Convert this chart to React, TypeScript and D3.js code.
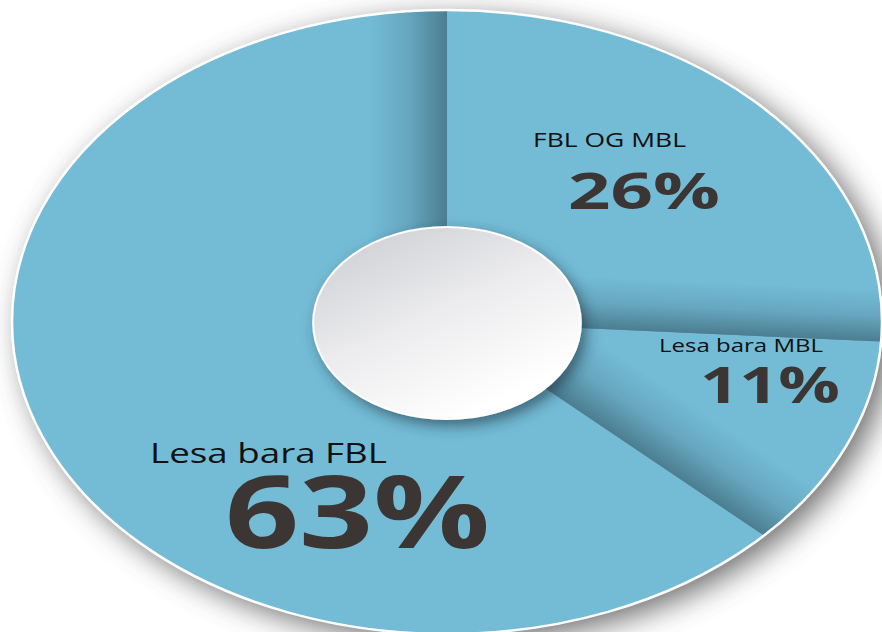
import React, { useRef, useEffect } from "react";
import * as d3 from "d3";

// slices, clockwise from 12 o'clock
const categories = ["FBL OG MBL", "Lesa bara MBL", "Lesa bara FBL"];
const shares = [26, 11, 63];
const shareLabels = ["26%", "11%", "63%"];

const W = 882;
const H = 632;
const cx = 447;
const cy = 322;
const rOuter = 312;
const rInner = 96;
const squash = 435 / 312; // the pie is stretched into an ellipse

// hand placed annotation boxes (x, baseline, font size, text width)
const labelLayout = [
  { name: { x: 533, y: 147, size: 20, len: 153 }, value: { x: 568, y: 209, size: 50, len: 152 }, shade: 52 },
  { name: { x: 659, y: 352, size: 19, len: 164 }, value: { x: 700, y: 403, size: 50, len: 140 }, shade: 60 },
  { name: { x: 150, y: 463, size: 28, len: 237 }, value: { x: 225, y: 548, size: 100, len: 265 }, shade: 56 },
];

const App = () => {
  const svgRef = useRef<SVGSVGElement | null>(null);

  useEffect(() => {
    const svg = d3.select(svgRef.current);
    svg.selectAll("*").remove();
    const defs = svg.append("defs");

    const outerBlur = defs
      .append("filter")
      .attr("id", "outerBlur")
      .attr("x", "-20%")
      .attr("y", "-20%")
      .attr("width", "140%")
      .attr("height", "140%");
    outerBlur.append("feGaussianBlur").attr("stdDeviation", 15);

    const holeShadow = defs
      .append("filter")
      .attr("id", "holeShadow")
      .attr("x", "-30%")
      .attr("y", "-30%")
      .attr("width", "160%")
      .attr("height", "160%");
    holeShadow
      .append("feDropShadow")
      .attr("dx", 5)
      .attr("dy", 6)
      .attr("stdDeviation", 7)
      .attr("flood-color", "#1d3540")
      .attr("flood-opacity", 0.6);

    const holeFill = defs
      .append("linearGradient")
      .attr("id", "holeFill")
      .attr("x1", 0.15)
      .attr("y1", 0.05)
      .attr("x2", 0.7)
      .attr("y2", 0.9);
    holeFill.append("stop").attr("offset", 0).attr("stop-color", "#cfd1d5");
    holeFill.append("stop").attr("offset", 0.5).attr("stop-color", "#ececee");
    holeFill.append("stop").attr("offset", 1).attr("stop-color", "#ffffff");

    svg.append("rect").attr("width", W).attr("height", H).attr("fill", "#ffffff");

    svg
      .append("ellipse")
      .attr("cx", cx + 10)
      .attr("cy", cy + 8)
      .attr("rx", rOuter * squash)
      .attr("ry", rOuter)
      .attr("fill", "#555555")
      .attr("opacity", 0.85)
      .attr("filter", "url(#outerBlur)");

    const pie = d3.pie<number>().sort(null).value((d) => d);
    const arcs = pie(shares);
    const arc = d3.arc<any>().innerRadius(rInner).outerRadius(rOuter);

    const g = svg
      .append("g")
      .attr("transform", `translate(${cx},${cy}) scale(${squash},1)`);

    g.selectAll("path.slice")
      .data(arcs)
      .join("path")
      .attr("class", "slice")
      .attr("d", arc)
      .attr("fill", "#74bbd5");

    // darker fold along the closing edge of every slice
    arcs.forEach((a, i) => {
      const e = a.endAngle;
      const w = labelLayout[i].shade;
      const grad = defs
        .append("linearGradient")
        .attr("id", `shade${i}`)
        .attr("gradientUnits", "userSpaceOnUse")
        .attr("x1", -Math.cos(e) * w)
        .attr("y1", -Math.sin(e) * w)
        .attr("x2", 0)
        .attr("y2", 0);
      grad.append("stop").attr("offset", 0).attr("stop-color", "#22404d").attr("stop-opacity", 0);
      grad.append("stop").attr("offset", 0.5).attr("stop-color", "#22404d").attr("stop-opacity", 0.16);
      grad.append("stop").attr("offset", 1).attr("stop-color", "#22404d").attr("stop-opacity", 0.5);
      g.append("path")
        .attr("d", arc({ startAngle: Math.max(a.startAngle, e - 0.65), endAngle: e }))
        .attr("fill", `url(#shade${i})`);
    });

    g.append("circle")
      .attr("r", rOuter)
      .attr("fill", "none")
      .attr("stroke", "#ffffff")
      .attr("stroke-width", 2.5)
      .attr("vector-effect", "non-scaling-stroke");

    svg
      .append("ellipse")
      .attr("cx", cx)
      .attr("cy", cy + 1)
      .attr("rx", rInner * squash)
      .attr("ry", rInner)
      .attr("fill", "url(#holeFill)")
      .attr("stroke", "#ffffff")
      .attr("stroke-width", 2)
      .attr("filter", "url(#holeShadow)");

    categories.forEach((name, i) => {
      const L = labelLayout[i];
      svg
        .append("text")
        .attr("x", L.name.x)
        .attr("y", L.name.y)
        .attr("font-family", "'Open Sans', sans-serif")
        .attr("font-size", L.name.size)
        .attr("textLength", L.name.len)
        .attr("lengthAdjust", "spacingAndGlyphs")
        .attr("fill", "#111111")
        .text(name);
      svg
        .append("text")
        .attr("x", L.value.x)
        .attr("y", L.value.y)
        .attr("font-family", "'Open Sans', sans-serif")
        .attr("font-weight", 700)
        .attr("font-size", L.value.size)
        .attr("textLength", L.value.len)
        .attr("lengthAdjust", "spacingAndGlyphs")
        .attr("fill", "#3b3633")
        .text(shareLabels[i]);
    });

    return () => {
      svg.selectAll("*").remove();
    };
  }, []);

  return (
    <svg
      ref={svgRef}
      width={W}
      height={H}
      style={{ position: "absolute", left: 0, top: 0 }}
    ></svg>
  );
};

export default App;
